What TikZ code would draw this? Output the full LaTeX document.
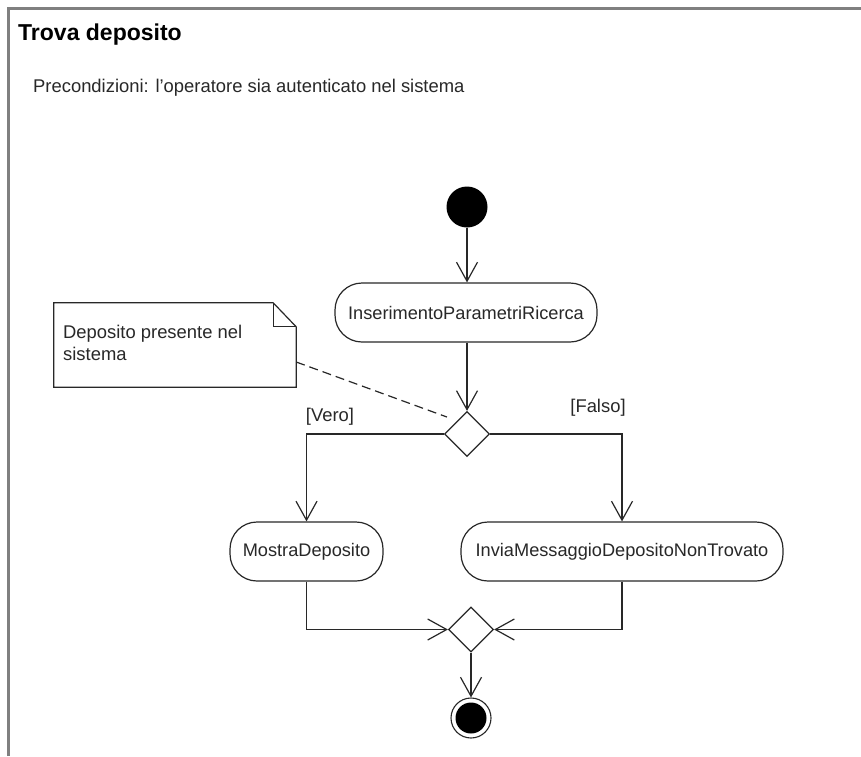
\documentclass[tikz,border=0pt]{standalone}
\usepackage{fontspec}
\setmainfont{Liberation Sans}
\usetikzlibrary{arrows.meta,shapes.geometric,calc}

\definecolor{ink}{RGB}{40,40,40}
\definecolor{framegray}{RGB}{128,128,128}

\tikzset{
  flow/.style={draw=ink, line width=1.2pt},
  arr/.style={flow, -{Straight Barb[length=19pt,width=21pt,line width=1.2pt]}},
  action/.style={flow, rectangle, rounded corners=27pt, minimum height=59pt,
    inner sep=0pt, text=ink, font=\fontsize{18.2}{21}\selectfont},
  decision/.style={flow, diamond, minimum width=45pt, minimum height=45pt,
    inner sep=0pt, fill=white},
  lbl/.style={text=ink, font=\fontsize{18.4}{22}\selectfont, inner sep=0pt},
}

\begin{document}
\begin{tikzpicture}[x=1pt, y=-1pt]
  \useasboundingbox (0,0) rectangle (861,756);
  \fill[white] (0,0) rectangle (861,756);

  % frame of the activity
  \draw[framegray, line width=3pt] (8.5,756) -- (8.5,8.5) -- (861,8.5);
  \node[anchor=base west, text=black, inner sep=0pt,
        font=\fontsize{23}{26}\bfseries\selectfont] (title) at (18,40) {Trova deposito};
  \node[anchor=base west, lbl] (pre) at (33,92)
        {Precondizioni: l’operatore sia autenticato nel sistema};

  % nodes
  \node[circle, fill=black, minimum size=41pt, inner sep=0pt] (start) at (467,207) {};
  \node[action, minimum width=262pt] (a1) at (466,312.5) {InserimentoParametriRicerca};
  \node[decision] (d1) at (467,434) {};
  \node[action, minimum width=153pt] (a2) at (306.5,551.5) {MostraDeposito};
  \node[action, minimum width=322pt] (a3) at (622,551.5) {InviaMessaggioDepositoNonTrovato};
  \node[decision] (d2) at (471,629.5) {};
  \node[circle, draw=ink, line width=1.1pt, minimum size=40pt, inner sep=0pt] (stop) at (471,718) {};
  \node[circle, fill=black, minimum size=31pt, inner sep=0pt] (stopdot) at (stop) {};

  % comment note with folded corner
  \node[minimum width=242pt, minimum height=84pt, inner sep=0pt] (note) at (175,345) {};
  \draw[flow, fill=white]
    (note.north west) -- ($(note.north east)+(-23,0)$) -- ($(note.north east)+(0,24)$)
    -- (note.south east) -- (note.south west) -- cycle;
  \draw[flow] ($(note.north east)+(-23,0)$) -- ($(note.north east)+(-23,24)$)
    -- ($(note.north east)+(0,24)$);
  \node[anchor=base west, align=left, text=ink, inner sep=0pt,
        font=\fontsize{18.4}{22}\selectfont] (notetext) at (63,360)
        {Deposito presente nel\\sistema};
  \draw[flow, dashed, dash pattern=on 9pt off 5pt] ($(note.east)+(0,17)$) -- ($(d1.west)+(3,-17)$);

  % guards
  \node[lbl] (vero) at (330,417) {[Vero]};
  \node[lbl] (falso) at (598,408) {[Falso]};

  % control flow
  \draw[arr] (start) -- (start |- a1.north);
  \draw[arr] (a1.south -| d1) -- (d1.north);
  \draw[arr] (d1.west) -| (a2.north);
  \draw[arr] (d1.east) -| (a3.north);
  \draw[arr] (a2.south) |- (d2.west);
  \draw[arr] (a3.south) |- (d2.east);
  \draw[arr] (d2.south) -- (stop.north);
\end{tikzpicture}
\end{document}
